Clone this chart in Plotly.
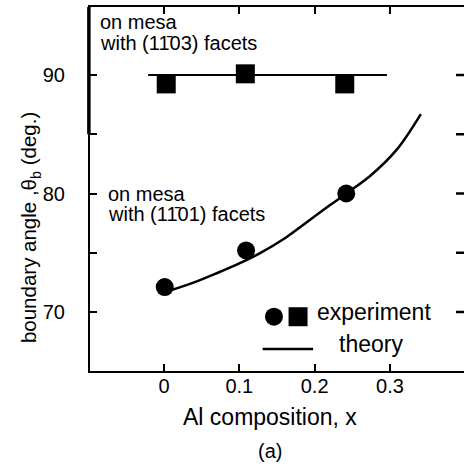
import plotly.graph_objects as go

# ---- data ----
square_x = [0.003, 0.108, 0.240]
square_y = [89.25, 90.10, 89.25]

circle_x = [0.001, 0.109, 0.242]
circle_y = [72.1, 75.2, 80.0]

flat_theory_x = [-0.021, 0.296]
flat_theory_y = [90.0, 90.0]

theory_x = [0.005, 0.04, 0.07, 0.10, 0.127, 0.16, 0.19, 0.22, 0.242, 0.274, 0.309, 0.341]
theory_y = [71.75, 72.5, 73.27, 74.1, 74.95, 76.2, 77.6, 79.0, 80.0, 81.5, 83.7, 86.7]

x_tickvals = [0, 0.1, 0.2, 0.3]
x_ticktext = ["0", "0.1", "0.2", "0.3"]
y_tickvals = [70, 75, 80, 85, 90]
y_ticktext = ["70", "", "80", "", "90"]

FONT = "Liberation Sans, Arial, Helvetica, sans-serif"
BLACK = "black"
X_RANGE = [-0.0982, 0.3983]
Y_RANGE = [65.02, 95.74]

fig = go.Figure()

# theory curves
fig.add_trace(go.Scatter(x=theory_x, y=theory_y, mode="lines",
                         line=dict(color=BLACK, width=2.5, shape="spline"),
                         showlegend=False, hoverinfo="skip"))
fig.add_trace(go.Scatter(x=flat_theory_x, y=flat_theory_y, mode="lines",
                         line=dict(color=BLACK, width=2),
                         showlegend=False, hoverinfo="skip"))
# experiment
fig.add_trace(go.Scatter(x=circle_x, y=circle_y, mode="markers",
                         marker=dict(symbol="circle", size=18, color=BLACK),
                         showlegend=False))
fig.add_trace(go.Scatter(x=square_x, y=square_y, mode="markers",
                         marker=dict(symbol="square", size=19, color=BLACK),
                         showlegend=False))

# hand-made legend
fig.add_trace(go.Scatter(x=[0.146], y=[69.6], mode="markers",
                         marker=dict(symbol="circle", size=18, color=BLACK),
                         showlegend=False, hoverinfo="skip"))
fig.add_trace(go.Scatter(x=[0.178], y=[69.6], mode="markers",
                         marker=dict(symbol="square", size=19, color=BLACK),
                         showlegend=False, hoverinfo="skip"))
fig.add_trace(go.Scatter(x=[0.131, 0.198], y=[66.88, 66.88], mode="lines",
                         line=dict(color=BLACK, width=2.5),
                         showlegend=False, hoverinfo="skip"))

ann_font = dict(family=FONT, size=20, color=BLACK)
big_font = dict(family=FONT, size=23, color=BLACK)


def note(text, x, y, font, xanchor="left", **kw):
    return dict(text=text, x=x, y=y, xref="paper", yref="paper",
                xanchor=xanchor, yanchor="middle", align="left",
                showarrow=False, font=font, **kw)


annotations = [
    note("on mesa", 0.021, 0.959, ann_font),
    note("with (11\u030403) facets", 0.021, 0.902, ann_font),
    note("on mesa", 0.042, 0.485, ann_font),
    note("with (11\u030401) facets", 0.042, 0.430, ann_font),
    note("experiment", 0.601, 0.162, big_font),
    note("theory", 0.660, 0.075, big_font),
    note("Al composition, x", 0.481, -0.126, big_font, xanchor="center"),
    note("(a)", 0.481, -0.220, dict(family=FONT, size=20, color=BLACK),
         xanchor="center"),
    note("boundary angle ,\u03b8<sub>b</sub> (deg.)", -0.160, 0.393,
         dict(family=FONT, size=20.5, color=BLACK), xanchor="center",
         textangle=-90),
]

# inward ticks on the right-hand frame edge, placed through the x/y scales
tick_dx = 8 * (X_RANGE[1] - X_RANGE[0]) / 374
shapes = [dict(type="line", xref="x", yref="y", x0=X_RANGE[1] - tick_dx,
               x1=X_RANGE[1], y0=v, y1=v, layer="above",
               line=dict(color=BLACK, width=2.5))
          for v in y_tickvals]
# the heavier upper part of the left frame line
shapes.append(dict(type="line", xref="paper", yref="y", x0=-0.003, x1=-0.003,
                   y0=85, y1=Y_RANGE[1], line=dict(color=BLACK, width=3.5)))

fig.update_layout(
    width=464, height=466,
    margin=dict(l=90, r=0, t=7, b=95, pad=0),
    paper_bgcolor="white", plot_bgcolor="white",
    font=dict(family=FONT, size=20, color=BLACK),
    showlegend=False,
    annotations=annotations,
    shapes=shapes,
    xaxis=dict(range=X_RANGE, tickvals=x_tickvals, ticktext=x_ticktext,
               ticks="inside", ticklen=7, tickwidth=2, tickcolor=BLACK,
               showline=True, linewidth=2, linecolor=BLACK, mirror="ticks",
               showgrid=False, zeroline=False, ticklabelstandoff=-4,
               tickfont=dict(family=FONT, size=20, color=BLACK)),
    yaxis=dict(range=Y_RANGE, tickvals=y_tickvals, ticktext=y_ticktext,
               ticks="inside", ticklen=7, tickwidth=2, tickcolor=BLACK,
               showline=True, linewidth=2, linecolor=BLACK,
               showgrid=False, zeroline=False, ticklabelstandoff=19,
               tickfont=dict(family=FONT, size=20, color=BLACK)),
)

fig.write_html("out.html")
